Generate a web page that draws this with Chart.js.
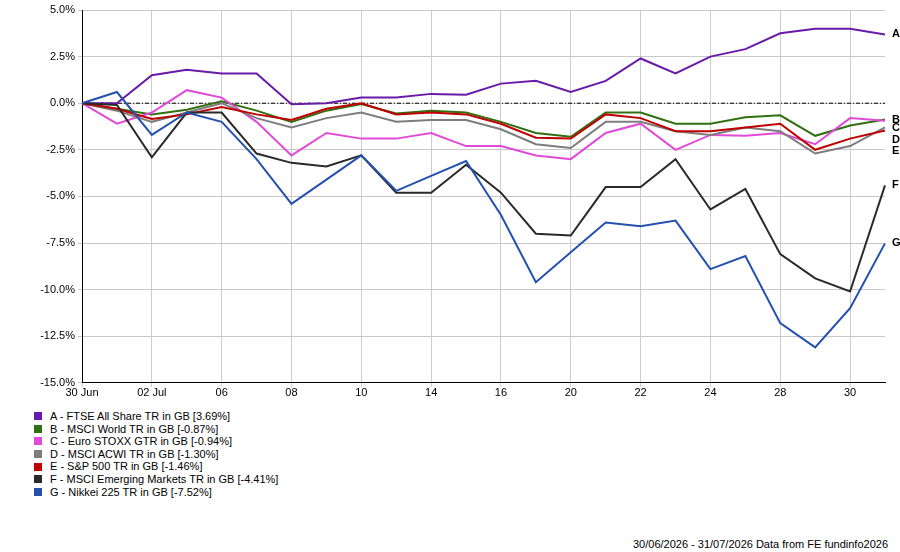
<!DOCTYPE html>
<html>
<head>
<meta charset="utf-8">
<script src="https://cdn.jsdelivr.net/npm/chart.js@4"></script>
<style>
body { margin:0; width:900px; height:552px; background:#fff; font-family:"Liberation Sans", Arial, sans-serif; position:relative; }
#wrap { position:absolute; left:0; top:0; width:900px; height:400px; }
#legend { position:absolute; left:34px; top:410px; font-size:11px; line-height:12.6px; color:#000; }
#legend div { display:flex; align-items:center; }
#legend span.box { display:inline-block; width:8px; height:8px; margin-right:8px; }
#foot { position:absolute; right:12px; top:538px; font-size:11px; color:#000; }
</style>
</head>
<body>
<div id="wrap"><canvas id="chart"></canvas></div>
<div id="legend"></div>
<div id="foot">30/06/2026 - 31/07/2026 Data from FE fundinfo2026</div>
<script>
const labels = ['30 Jun','01','02 Jul','03','06','07','08','09','10','13','14','15','16','17','20','21','22','23','24','27','28','29','30','31'];

const seriesA = [0,0,1.5,1.8,1.6,1.6,-0.05,0,0.3,0.3,0.5,0.45,1.05,1.2,0.6,1.2,2.4,1.6,2.5,2.9,3.75,4.0,4.0,3.69];
const seriesB = [0,-0.3,-0.6,-0.35,0.1,-0.4,-1.0,-0.4,-0.05,-0.55,-0.4,-0.5,-1.0,-1.6,-1.8,-0.5,-0.5,-1.1,-1.1,-0.75,-0.65,-1.75,-1.2,-0.87];
const seriesC = [0,-1.1,-0.5,0.7,0.3,-1.0,-2.8,-1.6,-1.9,-1.9,-1.6,-2.3,-2.3,-2.8,-3.0,-1.6,-1.1,-2.5,-1.7,-1.75,-1.6,-2.2,-0.8,-0.94];
const seriesD = [0,-0.4,-1.0,-0.5,0.0,-0.8,-1.3,-0.8,-0.5,-1.0,-0.9,-0.9,-1.4,-2.2,-2.4,-1.0,-1.0,-1.5,-1.7,-1.3,-1.5,-2.7,-2.3,-1.30];
const seriesE = [0,-0.3,-0.85,-0.6,-0.2,-0.6,-0.9,-0.3,0,-0.6,-0.5,-0.6,-1.1,-1.85,-1.9,-0.6,-0.8,-1.5,-1.5,-1.3,-1.1,-2.5,-1.9,-1.46];
const seriesF = [0,-0.1,-2.9,-0.5,-0.5,-2.7,-3.2,-3.4,-2.8,-4.8,-4.8,-3.3,-4.8,-7.0,-7.1,-4.5,-4.5,-3.0,-5.7,-4.6,-8.1,-9.4,-10.1,-4.41];
const seriesG = [0,0.6,-1.7,-0.5,-1.0,-3.0,-5.4,-4.1,-2.8,-4.7,-3.9,-3.1,-6.0,-9.6,-8.0,-6.4,-6.6,-6.3,-8.9,-8.2,-11.8,-13.1,-11.0,-7.52];

const names = ['A - FTSE All Share TR in GB [3.69%]','B - MSCI World TR in GB [-0.87%]','C - Euro STOXX GTR in GB [-0.94%]','D - MSCI ACWI TR in GB [-1.30%]','E - S&P 500 TR in GB [-1.46%]','F - MSCI Emerging Markets TR in GB [-4.41%]','G - Nikkei 225 TR in GB [-7.52%]'];
const letters = ['A','B','C','D','E','F','G'];
const colors = ['#6a1aa8','#317010','#e04ad8','#7d7d7d','#c00000','#2a2a2a','#2450b0'];
const allSeries = [seriesA,seriesB,seriesC,seriesD,seriesE,seriesF,seriesG];
// right-edge label y positions (values) so letters don't collide
const letterPos = [3.69,-0.9,-1.35,-1.95,-2.55,-4.4,-7.5];

const datasets = allSeries.map((d,i) => ({
  label: names[i], data: d, borderColor: colors[i], borderWidth: 2,
  pointRadius: 0, tension: 0, order: 7 - i
}));

const extras = {
  id: 'extras',
  beforeDatasetsDraw(chart) {
    const {ctx, chartArea, scales:{y}} = chart;
    const y0 = y.getPixelForValue(0);
    ctx.save();
    ctx.strokeStyle = '#000'; ctx.lineWidth = 1;
    ctx.setLineDash([4,2,1,2]);
    ctx.beginPath(); ctx.moveTo(chartArea.left, y0); ctx.lineTo(chartArea.right, y0); ctx.stroke();
    ctx.restore();
  },
  afterDatasetsDraw(chart) {
    const {ctx, chartArea, scales:{y}} = chart;
    ctx.save();
    ctx.font = 'bold 11px "Liberation Sans", Arial';
    ctx.fillStyle = '#000'; ctx.textBaseline = 'middle';
    letters.forEach((l,i) => ctx.fillText(l, chartArea.right + 7, y.getPixelForValue(letterPos[i])));
    ctx.restore();
  }
};

new Chart(document.getElementById('chart'), {
  type: 'line',
  data: { labels, datasets },
  options: {
    responsive: true, maintainAspectRatio: false, animation: false,
    layout: { padding: { left: 0, right: 15, top: 10, bottom: 0 } },
    plugins: { legend: { display: false }, tooltip: { enabled: false } },
    scales: {
      x: {
        offset: false,
        grid: { color: c => c.index % 2 ? 'rgba(0,0,0,0)' : '#cccccc', drawTicks: true, tickLength: 4 },
        border: { color: '#000' },
        ticks: { autoSkip: false, maxRotation: 0, color: '#000', font: { size: 11, family: '"Liberation Sans Narrow", "Liberation Sans", Arial' },
          callback: (v,i) => i % 2 ? '' : labels[i], padding: 0 }
      },
      y: {
        min: -15, max: 5,
        afterFit: s => { s.width = 82; },
        grid: { color: '#c8c8c8', tickLength: 4 },
        border: { color: '#000', dash: [] },
        ticks: { stepSize: 2.5, color: '#000', font: { size: 11, family: '"Liberation Sans Narrow", "Liberation Sans", Arial' },
          callback: v => v.toFixed(1) + '%' }
      }
    }
  },
  plugins: [extras]
});

const leg = document.getElementById('legend');
names.forEach((n,i) => {
  const d = document.createElement('div');
  d.innerHTML = '<span class="box" style="background:' + colors[i] + '"></span>' + n.replace('&','&amp;');
  leg.appendChild(d);
});
</script>
</body>
</html>
